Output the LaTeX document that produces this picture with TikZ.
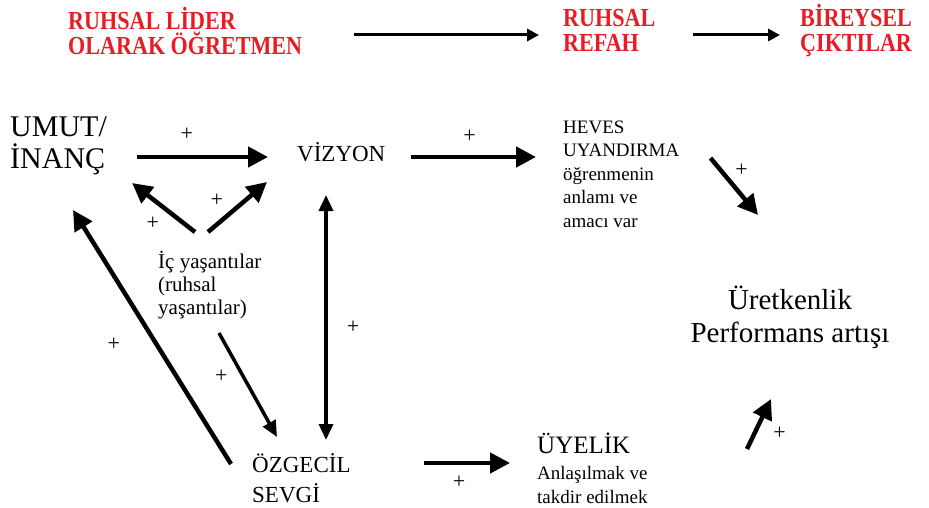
\documentclass[tikz,border=0pt]{standalone}
\usepackage{fontspec}
\setmainfont{Liberation Serif}[BoldFont={Liberation Serif Bold}]
\newfontfamily\baslikfont{Liberation Serif Bold}[FakeStretch=0.85]
\usetikzlibrary{arrows.meta}
\definecolor{baslikred}{RGB}{232,28,36}
\tikzset{
  baslik/.style={text=baslikred, font=\baslikfont\fontsize{26}{25}\selectfont, align=left, anchor=west, inner sep=0pt},
  kavram/.style={align=left, anchor=west, inner sep=0pt},
  ok/.style={line width=4.5pt, -{Triangle[length=20pt,width=20pt]}},
  inceok/.style={line width=3.5pt, -{Triangle[length=16pt,width=14pt]}},
  ustok/.style={line width=3pt, -{Triangle[length=12pt,width=12pt]}},
  arti/.style={font=\fontsize{22}{22}\selectfont, inner sep=0pt}
}
\begin{document}
\begin{tikzpicture}[x=1pt,y=-1pt]
		\useasboundingbox (0,0) rectangle (929,508);
		% Red headings in the top row, joined by two thinner arrows
		\node[baslik] (lider) at (68,30.5) {RUHSAL LİDER\\OLARAK ÖĞRETMEN};
		\node[baslik] (refah) at (563,30.5) {RUHSAL\\REFAH};
		\node[baslik] (cikti) at (800,31) {BİREYSEL\\ÇIKTILAR};
		\draw [ustok] ([xshift=52pt,yshift=-4.5pt]lider.east) -- ([xshift=-24pt,yshift=-4.5pt]refah.west);
		\draw [ustok] ([xshift=130pt,yshift=-4.5pt]refah.west) -- ([xshift=-20pt,yshift=-4pt]cikti.west);
		% The concepts of the model
		\node[kavram, font=\fontsize{30}{32}\selectfont] (umut) at (10,146) {UMUT/\\İNANÇ};
		\node[kavram, font=\fontsize{23}{25}\selectfont] (vizyon) at (297,152) {VİZYON};
		\node[kavram, font=\fontsize{19}{23.5}\selectfont] (heves) at (563,174) {HEVES\\UYANDIRMA\\öğrenmenin\\anlamı ve\\amacı var};
		\node[kavram, font=\fontsize{21}{23}\selectfont] (ic) at (158,285) {İç yaşantılar\\(ruhsal\\yaşantılar)};
		\node[align=center, inner sep=0pt, font=\fontsize{29}{33}\selectfont] (uret) at (790,317) {Üretkenlik\\Performans artışı};
		\node[kavram, font=\fontsize{23}{30}\selectfont] (ozgecil) at (252,478) {ÖZGECİL\\SEVGİ};
		\node[kavram, font=\fontsize{25}{27}\selectfont] (uyelik) at (537,443) {ÜYELİK};
		\node[kavram, font=\fontsize{19}{24}\selectfont] (anlas) at (537,485) {Anlaşılmak ve\\takdir edilmek};
		% Thick arrows, each with its plus sign
		\draw [ok] ([xshift=30pt,yshift=-11pt]umut.east) -- node[arti,pos=.38,yshift=23pt] (a1) {+} ([xshift=-29pt,yshift=-5pt]vizyon.west);
		\draw [ok] ([xshift=25pt,yshift=-5pt]vizyon.east) -- node[arti,pos=.47,yshift=21pt] (a2) {+} ([xshift=-27pt,yshift=17pt]heves.west);
		\draw [ok] ([xshift=31pt,yshift=16pt]heves.east) -- node[arti,pos=.21,xshift=21pt] (a3) {+} ([xshift=-32pt,yshift=102pt]uret.center);
		\draw [ok] ([xshift=210pt,yshift=-6pt]uyelik.west) -- node[arti,pos=.32,xshift=25pt] (a4) {+} ([xshift=-19pt,yshift=-82pt]uret.center);
		\draw [ok] ([xshift=73pt,yshift=15pt]ozgecil.east) -- node[arti,pos=.41,yshift=-19pt] (a5) {+} ([xshift=-27pt,yshift=-20pt]uyelik.west);
		\draw [ok] ([xshift=-21pt,yshift=14pt]ozgecil.west) -- node[arti,pos=.47,xshift=-43pt] (a6) {+} ([xshift=63pt,yshift=-64pt]umut.west);
		\draw [ok] ([xshift=37pt,yshift=53pt]ic.west) -- node[arti,pos=.67,yshift=-24pt] (a7) {+} ([xshift=25pt,yshift=-37pt]umut.east);
		\draw [ok] ([xshift=50pt,yshift=53pt]ic.west) -- node[arti,pos=.64,xshift=-29pt] (a8) {+} ([xshift=-30pt,yshift=-30pt]vizyon.west);
		% Thinner arrows down to ÖZGECİL SEVGİ
		\draw [inceok] ([xshift=61pt,yshift=-48pt]ic.west) -- node[arti,pos=.42,xshift=-22pt] (a9) {+} ([xshift=25pt,yshift=41pt]ozgecil.west);
		\draw [inceok, {Triangle[length=16pt,width=14pt]}-{Triangle[length=16pt,width=14pt]}] ([xshift=74pt,yshift=38pt]ozgecil.west) -- node[arti,pos=.46,xshift=27pt] (a10) {+} ([xshift=29pt,yshift=-43pt]vizyon.west);
\end{tikzpicture}
\end{document}
